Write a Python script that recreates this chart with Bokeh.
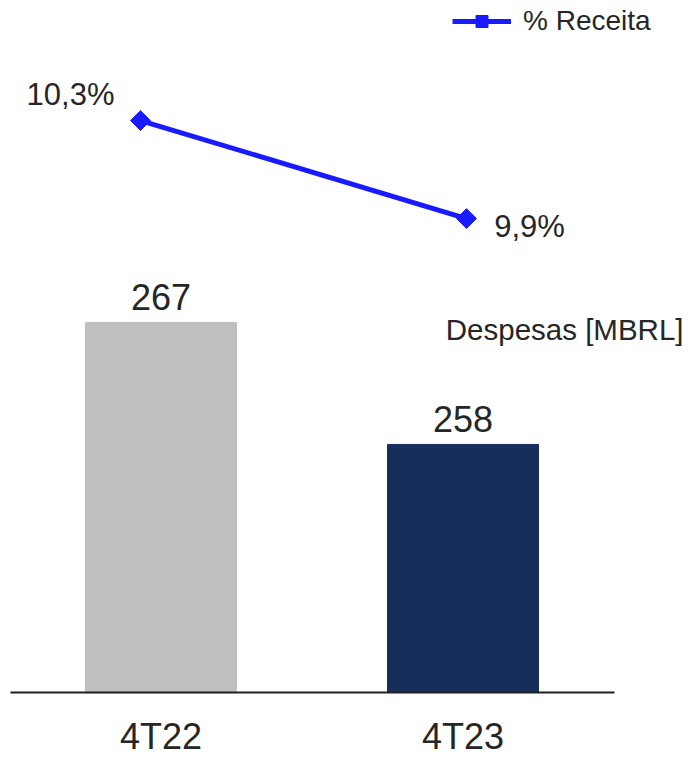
from bokeh.plotting import figure
from bokeh.models import (Range1d, Legend, LegendItem, Label,
                          ColumnDataSource, FixedTicker)
from bokeh.embed import file_html
from bokeh.resources import INLINE
from bokeh.core.properties import value

# ---- data ----
categories = ["4T22", "4T23"]
despesas = [267, 258]
despesas_labels = ["267", "258"]
receita_pct = [10.3, 9.9]
receita_labels = ["10,3%", "9,9%"]
bar_colors = ["#bfbfbf", "#182e5a"]
line_color = "#1a1aff"
text_color = "#262626"
FONT = "Liberation Sans"

idx = list(range(len(categories)))
y_base = 239.7  # where the bar axis starts

p = figure(x_range=Range1d(-0.5315, 1.750),
           y_range=Range1d(234.905, 290.75),
           width=689, height=757,
           min_border_left=0, min_border_right=0,
           min_border_top=0, min_border_bottom=0,
           y_axis_location=None,
           output_backend="svg", toolbar_location=None)
p.outline_line_color = None
p.xgrid.visible = False
p.ygrid.visible = False
p.background_fill_color = "white"
p.border_fill_color = "white"

# bars
bar_src = ColumnDataSource(dict(x=idx, val=despesas,
                                lab=despesas_labels, color=bar_colors))
p.vbar(x="x", top="val", bottom=y_base, width=0.5, color="color", source=bar_src)
p.text(x="x", y="val", text="lab", source=bar_src,
       text_align="center", text_baseline="alphabetic", y_offset=-25,
       text_font=value(FONT), text_font_size="36px", text_color=text_color)

# line on its own ranges
p.extra_x_ranges = {"lx": Range1d(-0.4294, 1.684)}
p.extra_y_ranges = {"pct": Range1d(7.700, 10.790)}
line_src = ColumnDataSource(dict(x=idx, y=receita_pct, lab=receita_labels,
                                 xo=[-70, 63], yo=[-26, 8]))
lr = p.line(x="x", y="y", source=line_src, x_range_name="lx", y_range_name="pct",
            line_color=line_color, line_width=5)
mr = p.scatter(x="x", y="y", source=line_src, x_range_name="lx", y_range_name="pct",
               marker="square", angle=0.785398, size=14,
               fill_color=line_color, line_color=line_color)
p.text(x="x", y="y", text="lab", source=line_src, x_range_name="lx", y_range_name="pct",
       x_offset="xo", y_offset="yo",
       text_align="center", text_baseline="alphabetic",
       text_font=value(FONT), text_font_size="31px", text_color=text_color)

# x axis (categories), drawn at the bar base
ax = p.xaxis[0]
ax.fixed_location = y_base
ax.bounds = (idx[0] - 0.5, idx[-1] + 0.5)
ax.ticker = FixedTicker(ticks=idx)
ax.major_label_overrides = {i: c for i, c in zip(idx, categories)}
ax.axis_line_color = "#1f1f1f"
ax.axis_line_width = 2
ax.major_tick_line_color = None
ax.minor_tick_line_color = None
ax.major_tick_out = 0
ax.major_label_standoff = 23
ax.major_label_text_font = FONT
ax.major_label_text_font_size = "36px"
ax.major_label_text_color = text_color

# legend
legend = Legend(items=[LegendItem(label="% Receita", renderers=[lr, mr])],
                location=(452, 720), orientation="vertical",
                glyph_width=59, glyph_height=30, label_height=30,
                label_standoff=12, padding=0, margin=0, spacing=0,
                border_line_alpha=0, background_fill_alpha=0,
                label_text_font=FONT, label_text_font_size="28px",
                label_text_color=text_color)
p.add_layout(legend)

# series title
p.add_layout(Label(x=683, y=428, x_units="screen", y_units="screen",
                   text="Despesas [MBRL]", text_align="right",
                   text_baseline="alphabetic", text_font=FONT,
                   text_font_size="29.5px", text_color=text_color))

open("out.html", "w").write(file_html(p, INLINE))
